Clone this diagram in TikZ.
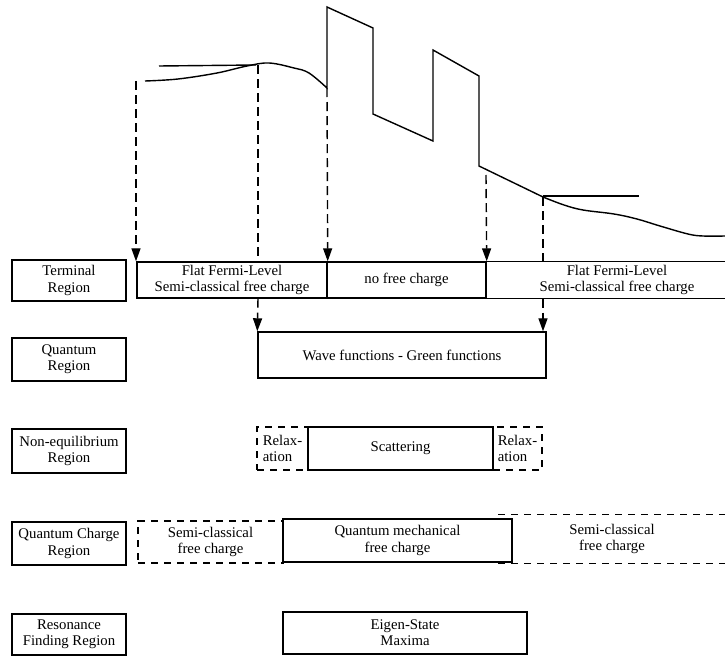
\documentclass[tikz,border=0pt]{standalone}
\usepackage{fontspec}
\setmainfont{Liberation Serif}
\usepackage{tikz}
\usetikzlibrary{arrows.meta}
\newlength\px
\setlength\px{0.025cm}

\begin{document}
\begin{tikzpicture}[x=0.025cm, y=-0.025cm, line width = 1pt,
                    font = \fontsize{10.5}{11.5}\selectfont,
                    cell/.style = {draw, align = center, inner sep = 0pt},
                    dcell/.style = {draw, dash pattern = on 1.75mm off 1.5mm, align = center, inner sep = 0pt},
                    drop/.style = {dash pattern = on 2.25mm off 1.25mm, -{Triangle[length = 3.25mm, width = 2.25mm]}},
                    guide/.style = {dash pattern = on 2.25mm off 1.25mm}]
  \useasboundingbox (0,0) rectangle (725,657);

  % potential profile
  \draw plot[smooth, tension = 0.6] coordinates {(145,81) (178,79) (217,73) (247,66) (269,63) (294,68) (309,73) (327,88)}
        -- (327,7) -- (373,28) -- (373,114) -- (433,141) -- (433,50) -- (479,76) -- (479,166) -- (543,197);
  \draw plot[smooth, tension = 0.6] coordinates {(543,197) (564,205) (583,210) (614,214) (637,219) (660,226) (688,234) (703,236) (725,236)};
  \draw (159,66) -- (256,65);
  \draw (543,196) -- (639,196);

  \coordinate (p1) at (136,81);
  \coordinate (p2) at (258,65);
  \coordinate (p3) at (327,88);
  \coordinate (p4) at (486,175);
  \coordinate (p5) at (543,197);

  % row labels
  \node [cell, minimum width = 114\px, minimum height = 41\px] (term) at (69,280.5) {Terminal\\Region};
  \node [cell, minimum width = 114\px, minimum height = 43\px] (quant) at (69,359.5) {Quantum\\Region};
  \node [cell, minimum width = 114\px, minimum height = 44\px] (neq) at (69,451) {Non-equilibrium\\Region};
  \node [cell, minimum width = 114\px, minimum height = 43\px] (qch) at (69,543.5) {Quantum Charge\\Region};
  \node [cell, minimum width = 114\px, minimum height = 41\px] (res) at (69,634.5) {Resonance\\Finding Region};

  % terminal strip
  \node [cell, minimum width = 190\px, minimum height = 36\px] (flatL) at (232,280) {Flat Fermi-Level\\Semi-classical free charge};
  \node [cell, minimum width = 159\px, minimum height = 36\px] (nofree) at (406.5,280) {no free charge};
  \node [align = center, inner sep = 0pt, minimum width = 262\px, minimum height = 36\px] (flatR) at (617,280) {Flat Fermi-Level\\Semi-classical free charge};
  \draw (flatR.north east) -- (nofree.north east) (flatR.south east) -- (nofree.south east);

  \draw [drop] (p1) -- (p1 |- flatL.north);
  \draw [guide] (p2) -- (p2 |- flatL.north);
  \draw [drop] (p3) -- (flatL.north east);
  \draw [drop] (p4) -- (nofree.north east);
  \draw [guide] (p5) -- (p5 |- flatR.north);

  % quantum region
  \node [cell, minimum width = 288\px, minimum height = 46\px] (wave) at (402,355) {Wave functions - Green functions};
  \draw [drop] (p2 |- flatL.south) -- (wave.north west);
  \draw [drop] (p5 |- flatR.south) -- (p5 |- wave.north);

  % non-equilibrium
  \node [dcell, minimum width = 51\px, minimum height = 43\px, align = left] (relaxL) at (282.5,448.5) {Relax-\\ation};
  \node [dcell, minimum width = 49\px, minimum height = 43\px, align = left] (relaxR) at (517.5,448.5) {Relax-\\ation};
  \node [cell, minimum width = 185\px, minimum height = 43\px] (scat) at (400.5,448.5) {Scattering};

  % quantum charge
  \node [dcell, minimum width = 145\px, minimum height = 42\px] (semiL) at (210.5,542) {Semi-classical\\free charge};
  \node [align = center, inner sep = 0pt, minimum width = 226\px, minimum height = 48\px] (semiR) at (612,539) {Semi-classical\\free charge};
  \draw [dcell] (semiR.north west) -- (semiR.north east) (semiR.south west) -- (semiR.south east);
  \node [cell, fill = white, minimum width = 229\px, minimum height = 43\px] (qm) at (397.5,540.5) {Quantum mechanical\\free charge};

  % resonance
  \node [cell, minimum width = 244\px, minimum height = 42\px] (eigen) at (405,633) {Eigen-State\\Maxima};
\end{tikzpicture}
\end{document}
